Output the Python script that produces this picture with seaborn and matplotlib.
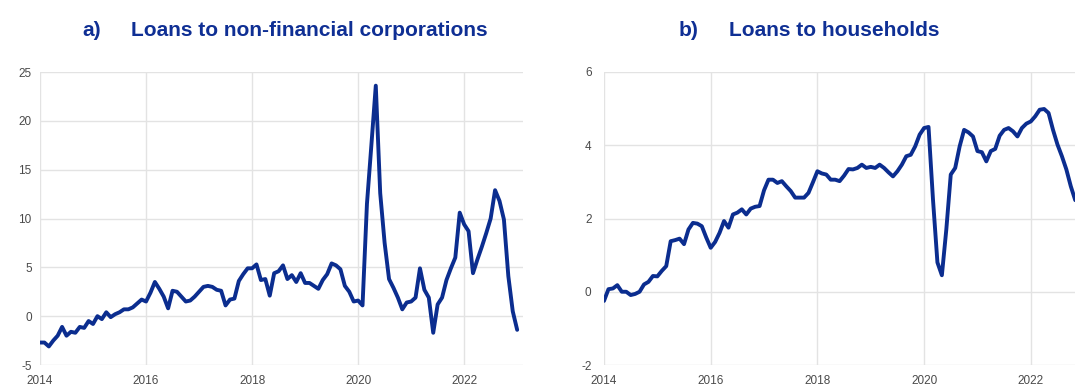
import numpy as np
import pandas as pd
import matplotlib
matplotlib.use("Agg")
import matplotlib.pyplot as plt
import seaborn as sns

# Monthly growth rates (annualised, %), starting January 2014
nfc_growth = [
    -2.7, -2.7, -3.1, -2.5, -2.0, -1.1, -2.0, -1.6, -1.7, -1.1,
    -1.2, -0.5, -0.8, 0.0, -0.3, 0.4, -0.1, 0.2, 0.4, 0.7,
    0.7, 0.9, 1.3, 1.7, 1.5, 2.4, 3.5, 2.8, 2.0, 0.8,
    2.6, 2.5, 2.0, 1.5, 1.6, 2.0, 2.5, 3.0, 3.1, 3.0,
    2.7, 2.6, 1.1, 1.7, 1.8, 3.6, 4.3, 4.9, 4.9, 5.3,
    3.7, 3.8, 2.1, 4.4, 4.6, 5.2, 3.8, 4.2, 3.5, 4.4,
    3.4, 3.4, 3.1, 2.8, 3.7, 4.3, 5.4, 5.2, 4.8, 3.1,
    2.5, 1.5, 1.6, 1.1, 11.5, 17.5, 23.6, 12.6, 7.5, 3.8,
    2.9, 1.9, 0.7, 1.4, 1.5, 1.9, 4.9, 2.7, 1.9, -1.7,
    1.2, 1.9, 3.7, 4.9, 6.0, 10.6, 9.4, 8.7, 4.4, 5.8,
    7.1, 8.5, 10.0, 12.9, 11.8, 9.9, 4.1, 0.5, -1.4,
]

hh_growth = [
    -0.25, 0.07, 0.09, 0.18, 0.0, 0.0, -0.09, -0.06, 0.0, 0.2,
    0.27, 0.43, 0.42, 0.57, 0.7, 1.38, 1.41, 1.45, 1.3, 1.7,
    1.88, 1.86, 1.79, 1.48, 1.2, 1.36, 1.61, 1.93, 1.75, 2.11,
    2.16, 2.25, 2.11, 2.27, 2.32, 2.34, 2.77, 3.06, 3.06, 2.97,
    3.02, 2.88, 2.75, 2.57, 2.57, 2.57, 2.7, 2.99, 3.29, 3.23,
    3.2, 3.06, 3.06, 3.02, 3.17, 3.35, 3.34, 3.38, 3.47, 3.38,
    3.41, 3.38, 3.47, 3.38, 3.26, 3.15, 3.29, 3.47, 3.7, 3.74,
    3.97, 4.29, 4.47, 4.5, 2.52, 0.8, 0.45, 1.7, 3.2, 3.38,
    3.97, 4.42, 4.35, 4.24, 3.84, 3.81, 3.56, 3.84, 3.9, 4.26,
    4.42, 4.47, 4.38, 4.24, 4.47, 4.59, 4.65, 4.79, 4.97, 4.99,
    4.88, 4.42, 4.02, 3.7, 3.34, 2.88, 2.5,
]

year_ticks = [2014, 2016, 2018, 2020, 2022]
nfc_yticks = [-5, 0, 5, 10, 15, 20, 25]
hh_yticks = [-2, 0, 2, 4, 6]

nfc_df = pd.DataFrame({"date": 2014 + np.arange(len(nfc_growth)) / 12,
                       "growth": nfc_growth})
hh_df = pd.DataFrame({"date": 2014 + np.arange(len(hh_growth)) / 12,
                      "growth": hh_growth})

sns.set_theme(style="whitegrid")
plt.rcParams["font.family"] = ["Liberation Sans", "DejaVu Sans"]

W, H = 1075, 385
fig = plt.figure(figsize=(W / 100, H / 100), dpi=100)
fig.patch.set_facecolor("white")

line_color = "#0b2d8f"
title_color = "#0f2f94"
grid_color = "#e3e3e3"
tick_color = "#4a4a4a"

ax1 = fig.add_axes([40 / W, 20 / H, 483 / W, 293 / H])
ax2 = fig.add_axes([604 / W, 20 / H, 486 / W, 293 / H])

panels = [
    (ax1, nfc_df, nfc_yticks, (-5, 25)),
    (ax2, hh_df, hh_yticks, (-2, 6)),
]

for ax, df, yticks, ylim in panels:
    sns.lineplot(data=df, x="date", y="growth", ax=ax, color=line_color,
                 linewidth=2.8, solid_joinstyle="round", solid_capstyle="round")
    ax.set_xlim(2014, 2014 + 9.11)
    ax.set_ylim(*ylim)
    ax.set_xticks(year_ticks)
    ax.set_xticklabels([str(y) for y in year_ticks])
    ax.set_yticks(yticks)
    ax.set_yticklabels([str(v) for v in yticks])
    ax.set_xlabel("")
    ax.set_ylabel("")
    ax.set_facecolor("white")
    ax.grid(True, color=grid_color, linewidth=1.0)
    for side in ax.spines.values():
        side.set_visible(False)
    ax.tick_params(axis="both", length=0, labelsize=8.5, colors=tick_color)
    ax.tick_params(axis="x", pad=7)
    ax.tick_params(axis="y", pad=6)

ax2.tick_params(axis="y", pad=9)

ty = 1 - 31 / H
title_kw = dict(color=title_color, fontsize=15, fontweight="bold",
                va="center", ha="left")
fig.text(82 / W, ty, "a)", **title_kw)
fig.text(131 / W, ty, "Loans to non-financial corporations", **title_kw)
fig.text(679 / W, ty, "b)", **title_kw)
fig.text(729 / W, ty, "Loans to households", **title_kw)

fig.savefig("out.png", dpi=100, facecolor="white")
